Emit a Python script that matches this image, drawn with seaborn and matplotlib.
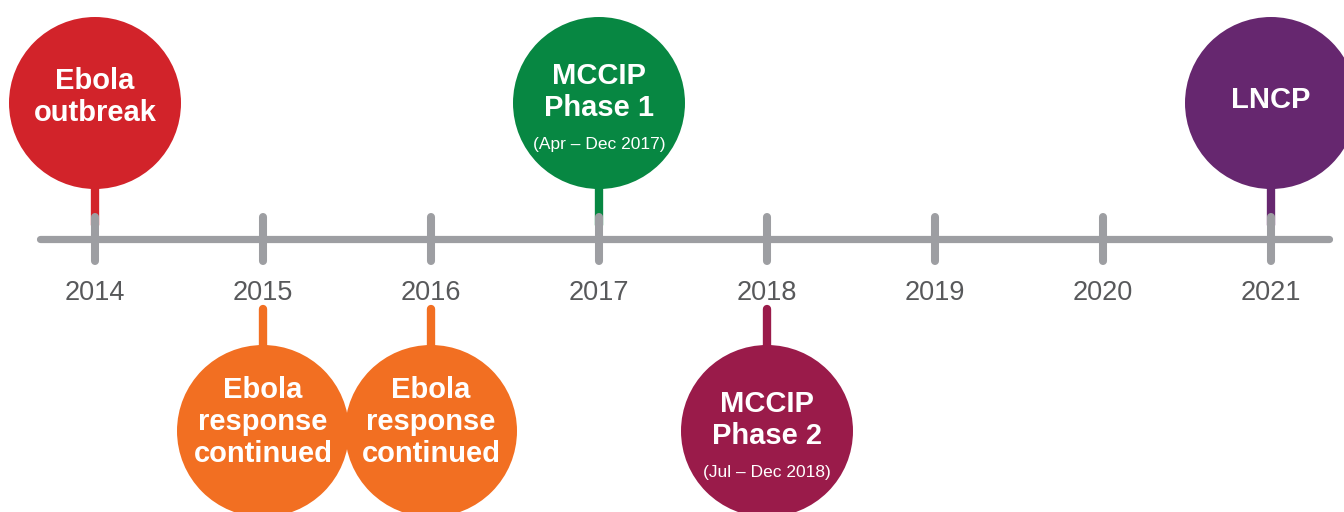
import numpy as np
import pandas as pd
import matplotlib
matplotlib.use("Agg")
import matplotlib.pyplot as plt
import seaborn as sns

# ---- data ----
years = [2014, 2015, 2016, 2017, 2018, 2019, 2020, 2021]
year_labels = ["2014", "2015", "2016", "2017", "2018", "2019", "2020", "2021"]
event_years = [2014, 2015, 2016, 2017, 2018, 2021]
event_titles = ["Ebola\noutbreak", "Ebola\nresponse\ncontinued", "Ebola\nresponse\ncontinued",
                "MCCIP\nPhase 1", "MCCIP\nPhase 2", "LNCP"]
event_subtitles = ["", "", "", "(Apr – Dec 2017)", "(Jul – Dec 2018)", ""]
event_sides = ["above", "below", "below", "above", "below", "above"]
event_colors = ["#D2232A", "#F26F22", "#F26F22", "#078742", "#9A1B4A", "#66276F"]

# ---- layout (pixel-like vertical units) ----
AXIS_Y = 239
CIRCLE_Y = {"above": 103, "below": 431}
TICK_HALF = 22
GRAY = "#9D9EA2"
TEXT_GRAY = "#58595B"
RADIUS_PX = 86

sns.set_theme(style="white")
plt.rcParams["font.family"] = ["Liberation Sans", "DejaVu Sans"]

fig = plt.figure(figsize=(13.44, 5.12), dpi=100)
ax = fig.add_axes([0, 0, 1, 1])
px_per_year = 168.0
ax.set_xlim(2014 - 95 / px_per_year, 2014 + (1344 - 95) / px_per_year)
ax.set_ylim(512, 0)
ax.axis("off")

df = pd.DataFrame({
    "year": event_years,
    "title": event_titles,
    "sub": event_subtitles,
    "side": event_sides,
    "color": event_colors,
})
df["cy"] = df["side"].map(CIRCLE_Y)
df["key"] = [f"e{i}" for i in range(len(df))]

# stems (below ticks & circles)
for _, r in df.iterrows():
    end = AXIS_Y - 14 if r["side"] == "above" else AXIS_Y + 70
    ax.plot([r["year"], r["year"]], [r["cy"], end], color=r["color"], lw=6,
            solid_capstyle="round", zorder=1)

# axis line
ax.plot([years[0] - 55 / px_per_year, years[-1] + 58 / px_per_year], [AXIS_Y, AXIS_Y],
        color=GRAY, lw=5.2, solid_capstyle="round", zorder=2)
# ticks
ax.vlines(years, AXIS_Y - TICK_HALF, AXIS_Y + TICK_HALF, color=GRAY, lw=5.8,
          capstyle="round", zorder=2)
for y, lab in zip(years, year_labels):
    ax.text(y, AXIS_Y + 54, lab, ha="center", va="center", fontsize=19.5,
            color=TEXT_GRAY, zorder=3)

# circles
size_pt = RADIUS_PX * 2 * 72 / fig.dpi
sns.scatterplot(data=df, x="year", y="cy", hue="key",
                palette=dict(zip(df["key"], df["color"])),
                s=size_pt ** 2, linewidth=0, legend=False, ax=ax, zorder=4)
ax.set_xlabel("")
ax.set_ylabel("")

# texts
for _, r in df.iterrows():
    cy = r["cy"]
    nlines = r["title"].count("\n") + 1
    if r["sub"]:
        ty = cy - 11
        ax.text(r["year"], cy + 41, r["sub"], ha="center", va="center",
                fontsize=12.5, color="white", zorder=5)
    else:
        ty = cy - 3 * nlines
    ax.text(r["year"], ty, r["title"], ha="center", va="center", fontsize=21,
            fontweight="bold", color="white", linespacing=1.2, zorder=5,
            multialignment="center")

fig.savefig("out.png", dpi=100)
